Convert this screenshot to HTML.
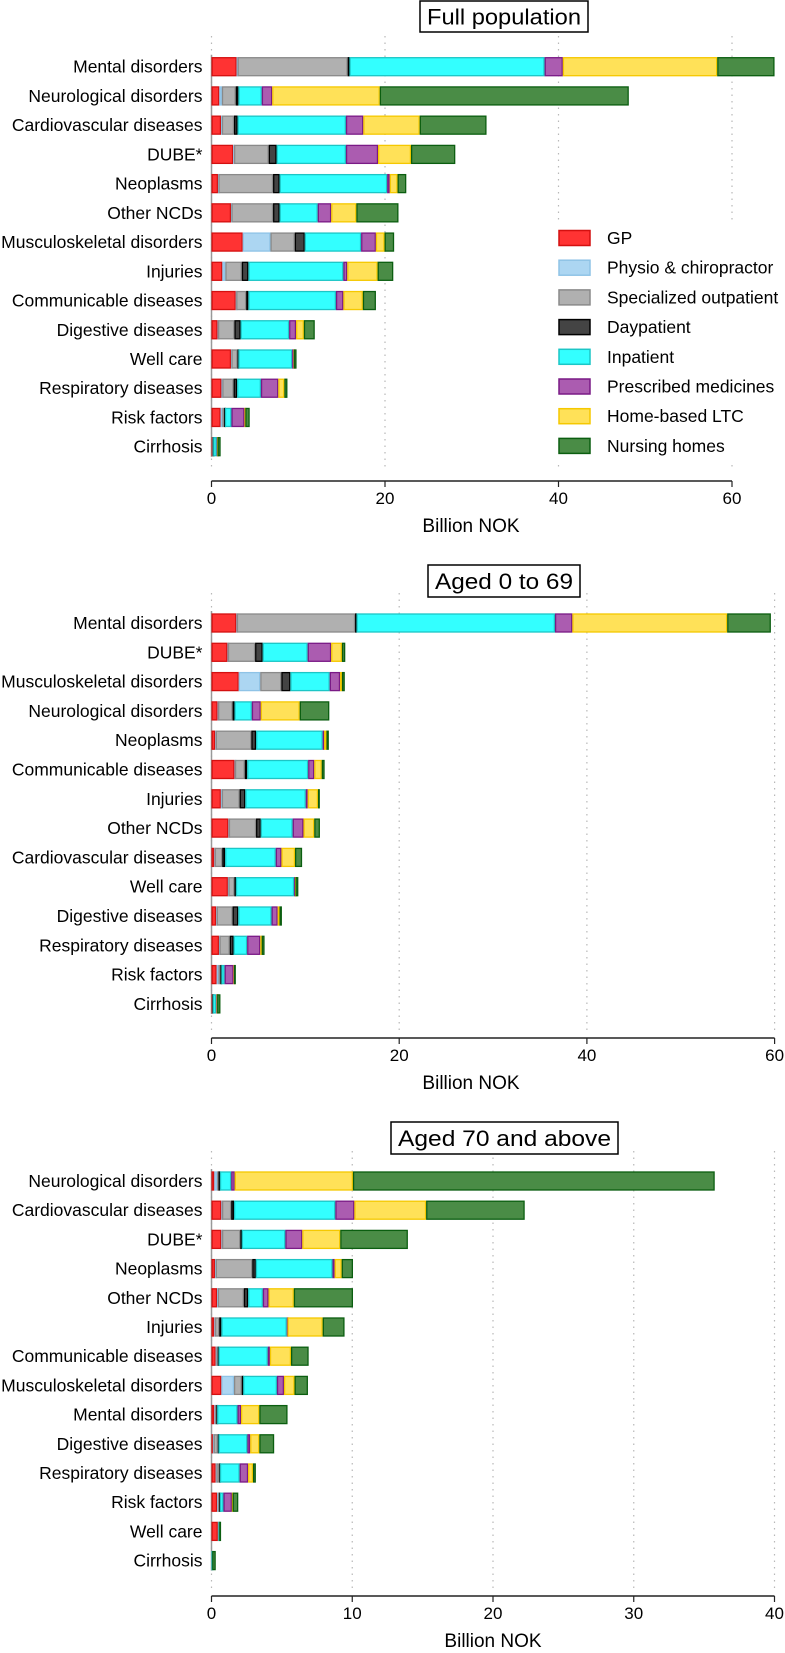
<!DOCTYPE html>
<html><head><meta charset="utf-8"><style>
html,body{margin:0;padding:0;background:#fff;}
svg{display:block;font-family:"Liberation Sans",Arial,sans-serif;}
</style></head><body>
<svg id="chart" width="785" height="1653" viewBox="0 0 785 1653" xmlns="http://www.w3.org/2000/svg"></svg>
<script>
const seriesNames = ["GP","Physio & chiropractor","Specialized outpatient","Daypatient","Inpatient","Prescribed medicines","Home-based LTC","Nursing homes"];
const fills = ["#ff3333","#acd6f2","#b0b0b0","#444444","#33ffff","#ab5cb0","#ffe158","#4a8c46"];
const strokes = ["#d41010","#8fc3e6","#8a8a8a","#000000","#1cc6c6","#7a1a86","#f5c800","#0b5e10"];

const cats1 = ["Mental disorders","Neurological disorders","Cardiovascular diseases","DUBE*","Neoplasms","Other NCDs","Musculoskeletal disorders","Injuries","Communicable diseases","Digestive diseases","Well care","Respiratory diseases","Risk factors","Cirrhosis"];
const gp1 = [2.9,0.9,1.1,2.5,0.75,2.25,3.6,1.25,2.8,0.7,2.25,1.15,1.05,0.05];
const phys1 = [0.1,0.3,0.1,0.1,0.05,0.05,3.2,0.35,0.05,0.05,0.05,0.1,0.2,0];
const spec1 = [12.7,1.6,1.4,4.0,6.3,4.8,2.8,1.9,1.15,1.9,0.7,1.3,0.2,0.1];
const day1 = [0.2,0.3,0.4,0.9,0.75,0.75,1.15,0.75,0.25,0.7,0.1,0.4,0.1,0.05];
const inp1 = [22.5,2.7,12.5,8.0,12.4,4.4,6.5,10.95,10.1,5.6,6.2,2.75,0.75,0.4];
const presc1 = [2.1,1.2,2.0,3.7,0.3,1.55,1.7,0.45,0.85,0.8,0.15,2.0,1.5,0.05];
const home1 = [17.8,12.4,6.5,3.8,0.9,2.9,1.0,3.5,2.25,0.9,0.05,0.7,0.1,0.05];
const nurs1 = [6.6,28.7,7.7,5.1,1.0,4.85,1.1,1.8,1.5,1.25,0.3,0.35,0.5,0.35];
const ticks1 = [0,20,40,60];

const cats2 = ["Mental disorders","DUBE*","Musculoskeletal disorders","Neurological disorders","Neoplasms","Communicable diseases","Injuries","Other NCDs","Cardiovascular diseases","Well care","Digestive diseases","Respiratory diseases","Risk factors","Cirrhosis"];
const gp2 = [2.65,1.7,2.9,0.65,0.4,2.45,1.0,1.8,0.3,1.75,0.5,0.8,0.55,0.05];
const phys2 = [0.05,0.05,2.3,0.05,0.05,0.05,0.1,0.05,0.05,0.05,0.05,0.05,0.2,0];
const spec2 = [12.6,2.9,2.25,1.55,3.8,1.05,1.9,2.9,0.8,0.65,1.7,1.1,0.2,0.05];
const day2 = [0.15,0.8,0.95,0.2,0.5,0.25,0.6,0.5,0.3,0.15,0.6,0.4,0.1,0.05];
const inp2 = [21.15,4.8,4.2,1.85,7.1,6.5,6.45,3.4,5.4,6.2,3.55,1.45,0.35,0.35];
const presc2 = [1.85,2.5,1.1,0.95,0.15,0.65,0.2,1.15,0.6,0.1,0.65,1.4,0.95,0.05];
const home2 = [16.5,1.15,0.2,4.15,0.25,0.8,1.1,1.15,1.45,0.05,0.2,0.15,0.05,0.05];
const nurs2 = [4.65,0.35,0.3,3.15,0.25,0.3,0.15,0.6,0.75,0.3,0.25,0.3,0.15,0.35];
const ticks2 = [0,20,40,60];

const cats3 = ["Neurological disorders","Cardiovascular diseases","DUBE*","Neoplasms","Other NCDs","Injuries","Communicable diseases","Musculoskeletal disorders","Mental disorders","Digestive diseases","Respiratory diseases","Risk factors","Well care","Cirrhosis"];
const gp3 = [0.2,0.7,0.7,0.25,0.4,0.2,0.3,0.7,0.2,0.1,0.3,0.4,0.45,0];
const phys3 = [0.2,0.05,0.05,0.05,0.05,0.05,0.05,0.9,0.05,0.05,0.05,0.05,0,0];
const spec3 = [0.1,0.65,1.3,2.6,1.85,0.3,0.1,0.55,0.1,0.3,0.2,0.1,0.05,0];
const day3 = [0.1,0.2,0.1,0.25,0.3,0.15,0.05,0.1,0.05,0.05,0.05,0.05,0,0];
const inp3 = [0.8,7.2,3.1,5.45,1.05,4.65,3.5,2.4,1.45,2.05,1.4,0.25,0.05,0.05];
const presc3 = [0.25,1.35,1.2,0.15,0.4,0.05,0.15,0.5,0.25,0.2,0.6,0.6,0,0];
const home3 = [8.4,5.1,2.7,0.5,1.8,2.5,1.5,0.75,1.3,0.65,0.35,0.05,0,0];
const nurs3 = [25.7,7.0,4.8,0.8,4.2,1.55,1.25,0.95,2.0,1.05,0.2,0.4,0.1,0.25];
const ticks3 = [0,10,20,30,40];

const NS = "http://www.w3.org/2000/svg";
const svg = document.getElementById("chart");
function mk(tag, attrs, parent){
  const e = document.createElementNS(NS, tag);
  for (const k in attrs) e.setAttribute(k, attrs[k]);
  (parent||svg).appendChild(e);
  return e;
}

function panel(p){
  const g = mk("g", {});
  
  
  const xs = v => p.x0 + v * p.scale;
  const ys = i => p.y0 + i * p.step;
  p.ticks.forEach(t => {
    const gl = mk("line", {x1:xs(t), x2:xs(t), y1:p.gTop, y2:p.gBot, stroke:"#b8b8b8", "stroke-width":1.2, "stroke-dasharray":"1.5,5"}, g);
    
    
  });
  const tb = mk("rect", {x:p.title[0], y:p.title[1], width:p.title[2], height:p.title[3], fill:"#fff", stroke:"#000", "stroke-width":1.5}, g);
  
  
  const tt = mk("text", {x:p.title[0]+p.title[2]/2, y:p.title[1]+p.title[3]/2+8, "text-anchor":"middle", "font-size":22, fill:"#000", textLength:p.title[2]-14, lengthAdjust:"spacingAndGlyphs"}, g);
  tt.textContent = p.name;
  
  
  const ya = mk("line", {x1:p.x0, x2:p.x0, y1:ys(0)-12, y2:ys(p.cats.length-1)+10, stroke:"#999", "stroke-width":1.5}, g);
  
  
  p.cats.forEach((c, i) => {
    const lab = mk("text", {x:p.x0-9, y:ys(i)+6, "text-anchor":"end", "font-size":17.5, fill:"#000"}, g);
    lab.textContent = c;
    
    
    let acc = 0;
    p.series.forEach((arr, s) => {
      const v = arr[i];
      if (v > 0) {
        const r = mk("rect", {x:xs(acc)+0.6, y:ys(i)-9, width:Math.max(v*p.scale-1.2,0.6), height:18, fill:fills[s], stroke:strokes[s], "stroke-width":1.3}, g);
        
        
      }
      acc += v;
    });
  });
  const xa = mk("line", {x1:p.x0, x2:xs(p.ticks[p.ticks.length-1]), y1:p.axisY, y2:p.axisY, stroke:"#222", "stroke-width":1.6}, g);
  
  
  p.ticks.forEach(t => {
    const tk = mk("line", {x1:xs(t), x2:xs(t), y1:p.axisY, y2:p.axisY+6, stroke:"#222", "stroke-width":1.2}, g);
    
    
    const tl = mk("text", {x:xs(t), y:p.axisY+23, "text-anchor":"middle", "font-size":17, fill:"#000"}, g);
    tl.textContent = t;
    
    
  });
  const xt = mk("text", {x:p.xTitleX, y:p.axisY+51, "text-anchor":"middle", "font-size":19, fill:"#000"}, g);
  xt.textContent = "Billion NOK";
  
  
}

panel({id:"panel-full-population", name:"Full population", cats:cats1, series:[gp1,phys1,spec1,day1,inp1,presc1,home1,nurs1], ticks:ticks1,
  x0:211.5, scale:8.675, y0:66.7, step:29.23, gTop:36, gBot:470, axisY:481, title:[420,1,168,31], xTitleX:471});
panel({id:"panel-aged-0-69", name:"Aged 0 to 69", cats:cats2, series:[gp2,phys2,spec2,day2,inp2,presc2,home2,nurs2], ticks:ticks2,
  x0:211.5, scale:9.385, y0:623, step:29.3, gTop:593, gBot:1030, axisY:1038, title:[428,565,152,32], xTitleX:471});
panel({id:"panel-aged-70-plus", name:"Aged 70 and above", cats:cats3, series:[gp3,phys3,spec3,day3,inp3,presc3,home3,nurs3], ticks:ticks3,
  x0:211.5, scale:14.075, y0:1181, step:29.2, gTop:1151, gBot:1590, axisY:1596, title:[391,1122,227,32], xTitleX:493});

const lg = mk("g", {});


const lbg = mk("rect", {x:550, y:220, width:235, height:245, fill:"#fff"}, lg);


seriesNames.forEach((n, s) => {
  const cy = 238 + s * 29.7;
  const sw = mk("rect", {x:559, y:cy-7.5, width:31, height:15, fill:fills[s], stroke:strokes[s], "stroke-width":1.5}, lg);
  
  
  const lt = mk("text", {x:607, y:cy+6, "font-size":17.5, fill:"#000"}, lg);
  lt.textContent = n;
  
  
});
</script>
</body></html>
